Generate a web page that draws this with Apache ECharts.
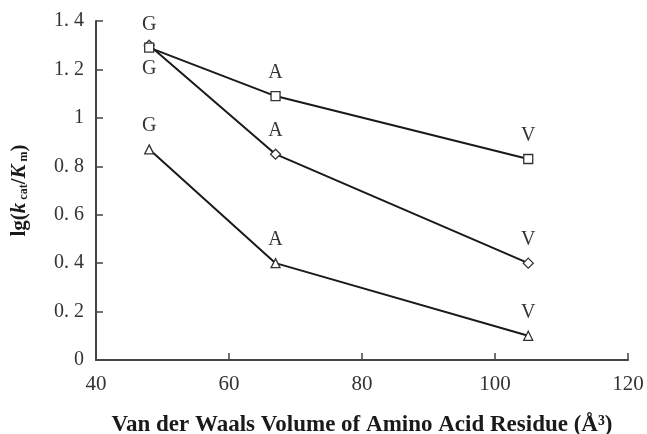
<!DOCTYPE html>
<html>
<head>
<meta charset="utf-8">
<script src="https://cdn.jsdelivr.net/npm/echarts@6/dist/echarts.min.js"></script>
<style>
  html, body { margin: 0; padding: 0; background: #fff; }
  #main { width: 647px; height: 434px; }
</style>
</head>
<body>
<div id="main"></div>
<script>
var residues = ['G', 'A', 'V'];
var volumes = [48, 67, 105];
var squareVals = [1.29, 1.09, 0.83];
var diamondVals = [1.30, 0.85, 0.40];
var triangleVals = [0.87, 0.40, 0.10];
var xTicks = [40, 60, 80, 100, 120];
var yTicks = [0, 0.2, 0.4, 0.6, 0.8, 1, 1.2, 1.4];

var chart = echarts.init(document.getElementById('main'));
var serif = '"Liberation Serif", "DejaVu Serif", serif';

function pairs(vals) {
    return volumes.map(function (v, i) { return [v, vals[i]]; });
}

function makeSeries(name, symbol, vals, labelPos) {
    return {
        name: name,
        type: 'line',
        symbol: symbol,
        symbolSize: symbol === 'diamond' ? 10 : 9,
        data: pairs(vals).map(function (p, i) {
            var d = { value: p };
            if (labelPos && labelPos[i]) d.label = { position: labelPos[i] };
            return d;
        }),
        lineStyle: { color: '#1a1a1a', width: 2 },
        itemStyle: { color: '#fff', borderColor: '#333', borderWidth: 1.3 },
        label: {
            show: true,
            position: 'top',
            distance: 8,
            fontFamily: serif,
            fontSize: 20,
            color: '#333',
            formatter: function (p) { return residues[p.dataIndex]; }
        },
        z: symbol === 'rect' ? 3 : 2
    };
}

var option = {
    animation: false,
    grid: { left: 96, right: 19, top: 21, bottom: 74, outerBoundsMode: 'none' },
    xAxis: {
        type: 'value',
        min: 40, max: 120, interval: 20,
        name: 'Van der Waals Volume of Amino Acid Residue (Å³)',
        nameLocation: 'middle',
        nameGap: 54,
        nameTextStyle: { fontFamily: serif, fontWeight: 'bold', fontSize: 23, color: '#1a1a1a' },
        axisLine: { lineStyle: { color: '#444', width: 2 } },
        axisTick: { inside: true, length: 7, lineStyle: { color: '#444', width: 1.5 } },
        axisLabel: { fontFamily: serif, fontSize: 21, color: '#333', margin: 14 },
        splitLine: { show: false }
    },
    yAxis: {
        type: 'value',
        min: 0, max: 1.4, interval: 0.2,
        name: '{n|lg(}{i|k}{s| cat}{n|/}{i|K}{s| m}{n|)}',
        nameLocation: 'middle',
        nameRotate: 90,
        nameGap: 66,
        nameTextStyle: {
            rich: {
                n: { fontFamily: serif, fontWeight: 'bold', fontSize: 21, color: '#1a1a1a' },
                i: { fontFamily: serif, fontWeight: 'bold', fontStyle: 'italic', fontSize: 21, color: '#1a1a1a' },
                s: { fontFamily: serif, fontWeight: 'bold', fontSize: 12, color: '#1a1a1a', verticalAlign: 'bottom' }
            }
        },
        axisLine: { show: true, lineStyle: { color: '#444', width: 2 } },
        axisTick: { show: true, inside: true, length: 7, lineStyle: { color: '#444', width: 1.5 } },
        axisLabel: {
            fontFamily: serif, fontSize: 20, color: '#333', margin: 12,
            formatter: function (v) {
                var s = String(Math.round(v * 10) / 10);
                return s.replace('.', '. ');
            }
        },
        splitLine: { show: false }
    },
    series: [
        makeSeries('square', 'rect', squareVals, null),
        makeSeries('diamond', 'diamond', diamondVals, ['bottom']),
        makeSeries('triangle', 'triangle', triangleVals, null)
    ]
};

chart.setOption(option);
</script>
</body>
</html>
